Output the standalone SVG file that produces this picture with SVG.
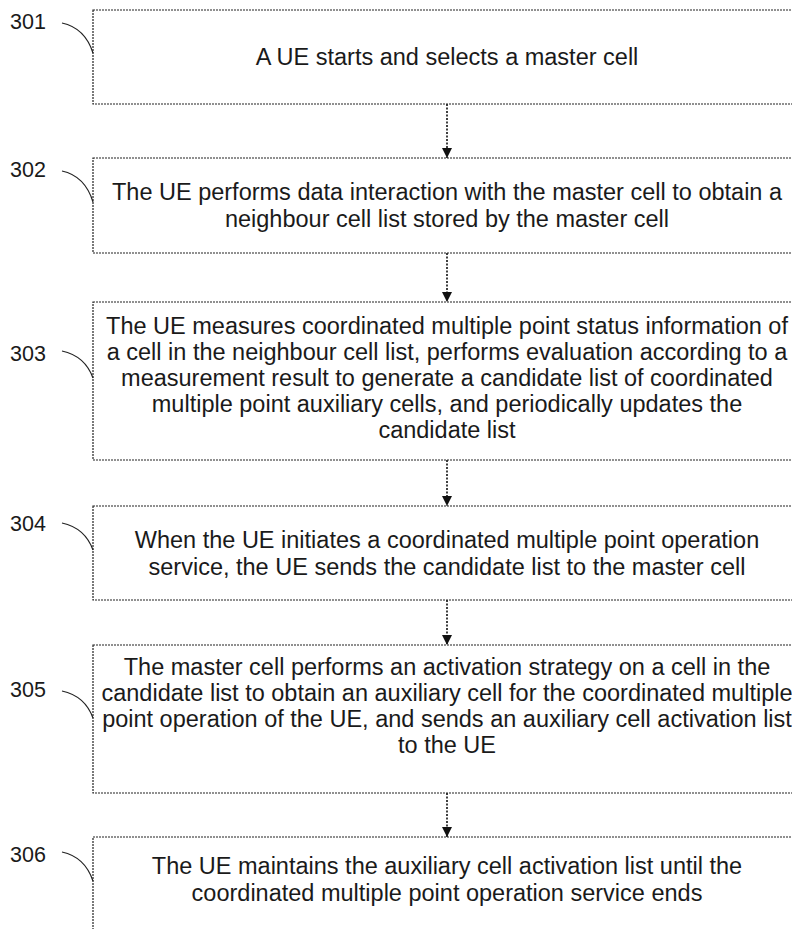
<svg xmlns="http://www.w3.org/2000/svg" width="792" height="929" viewBox="0 0 792 929">
<defs>
<style>
.box{fill:#fff;stroke:#222;stroke-width:1.2;stroke-dasharray:2 1}
.t{font-family:"Liberation Sans",Arial,sans-serif;font-size:23.5px;fill:#1a1a1a;text-anchor:middle}
.lbl{font-family:"Liberation Sans",Arial,sans-serif;font-size:21.5px;fill:#1a1a1a}
.lead{fill:none;stroke:#222;stroke-width:1.2}
.arr{stroke:#111;stroke-width:1.6;stroke-dasharray:2 1.5;fill:none}
</style>
<marker id="ah" viewBox="0 0 10 10" refX="10" refY="5" markerWidth="11" markerHeight="10" markerUnits="userSpaceOnUse" orient="auto">
<path d="M0,0 L10,5 L0,10 Z" fill="#111"/>
</marker>
</defs>
<rect width="792" height="929" fill="#fff"/>
<g id="connectors">
<line class="arr" x1="447" y1="104" x2="447" y2="158" marker-end="url(#ah)"/>
<line class="arr" x1="447" y1="253" x2="447" y2="302" marker-end="url(#ah)"/>
<line class="arr" x1="447" y1="460" x2="447" y2="506" marker-end="url(#ah)"/>
<line class="arr" x1="447" y1="600" x2="447" y2="645" marker-end="url(#ah)"/>
<line class="arr" x1="447" y1="793" x2="447" y2="837" marker-end="url(#ah)"/>
</g>
<g id="n301">
<rect class="box" x="93" y="10" width="720" height="94"/>
<text class="t" x="447" y="65">A UE starts and selects a master cell</text>
<text class="lbl" x="10" y="29">301</text>
<path class="lead" d="M62,23 Q85,28 93,53"/>
</g>
<g id="n302">
<rect class="box" x="93" y="158" width="720" height="95"/>
<text class="t" x="447" y="200">The UE performs data interaction with the master cell to obtain a</text>
<text class="t" x="447" y="227">neighbour cell list stored by the master cell</text>
<text class="lbl" x="10" y="177">302</text>
<path class="lead" d="M62,171 Q85,176 93,202"/>
</g>
<g id="n303">
<rect class="box" x="93" y="302" width="720" height="158"/>
<text class="t" x="447" y="334">The UE measures coordinated multiple point status information of</text>
<text class="t" x="447" y="360">a cell in the neighbour cell list, performs evaluation according to a</text>
<text class="t" x="447" y="386">measurement result to generate a candidate list of coordinated</text>
<text class="t" x="447" y="412">multiple point auxiliary cells, and periodically updates the</text>
<text class="t" x="447" y="438">candidate list</text>
<text class="lbl" x="10" y="361">303</text>
<path class="lead" d="M62,351 Q85,356 93,378"/>
</g>
<g id="n304">
<rect class="box" x="93" y="506" width="720" height="94"/>
<text class="t" x="447" y="548">When the UE initiates a coordinated multiple point operation</text>
<text class="t" x="447" y="575">service, the UE sends the candidate list to the master cell</text>
<text class="lbl" x="10" y="531">304</text>
<path class="lead" d="M62,523 Q85,528 93,550"/>
</g>
<g id="n305">
<rect class="box" x="93" y="645" width="720" height="148"/>
<text class="t" x="447" y="675">The master cell performs an activation strategy on a cell in the</text>
<text class="t" x="447" y="701">candidate list to obtain an auxiliary cell for the coordinated multiple</text>
<text class="t" x="447" y="727">point operation of the UE, and sends an auxiliary cell activation list</text>
<text class="t" x="447" y="753">to the UE</text>
<text class="lbl" x="10" y="697">305</text>
<path class="lead" d="M62,691 Q85,696 93,718"/>
</g>
<g id="n306">
<rect class="box" x="93" y="837" width="720" height="120"/>
<text class="t" x="447" y="874">The UE maintains the auxiliary cell activation list until the</text>
<text class="t" x="447" y="901">coordinated multiple point operation service ends</text>
<text class="lbl" x="10" y="862">306</text>
<path class="lead" d="M62,852 Q85,857 93,881"/>
</g>
</svg>
